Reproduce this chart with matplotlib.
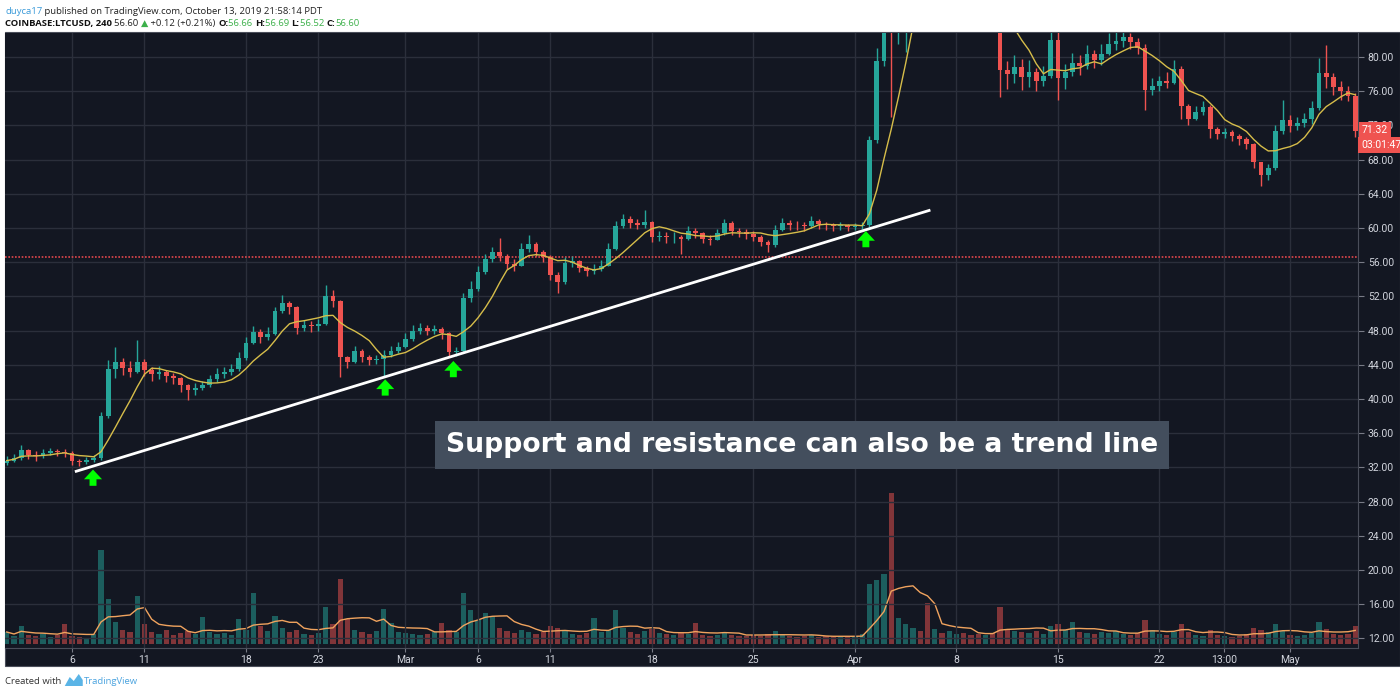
import matplotlib
matplotlib.use('Agg')
import matplotlib.pyplot as plt
from matplotlib.patches import Rectangle, Polygon
import numpy as np
import pandas as pd

# --- DATA: COINBASE LTCUSD in 12h buckets ---
# x position of candle k (0-based) = START_DAY + k * STEP, in days since Feb 1 2019
START_DAY = 0.5
STEP = 0.5

close_px = [
    32.8, 33.1, 34.0, 33.5, 33.3, 33.7, 33.9, 33.8, 33.7, 32.7,
    32.6, 32.9, 33.1, 38.0, 43.5, 44.3, 43.6, 43.2, 44.3, 43.4,
    42.9, 43.2, 42.7, 42.5, 41.6, 41.0, 41.3, 41.6, 42.3, 42.9,
    43.2, 43.5, 44.8, 46.6, 47.8, 47.3, 47.6, 50.3, 51.2, 50.8,
    48.3, 48.6, 48.5, 48.8, 52.0, 51.5, 44.9, 44.3, 45.6, 44.9,
    44.6, 44.7, 45.2, 45.6, 46.1, 47.0, 48.0, 48.3, 48.0, 48.2,
    47.7, 45.5, 45.6, 51.8, 52.9, 54.8, 56.4, 57.2, 56.7, 55.8,
    55.6, 57.6, 58.1, 57.2, 56.6, 54.5, 53.7, 55.9, 56.1, 55.3,
    55.0, 55.2, 55.6, 57.6, 60.2, 61.0, 60.6, 60.4, 60.7, 59.0,
    59.1, 58.9, 59.0, 58.7, 59.7, 59.4, 58.7, 58.6, 59.4, 60.6,
    59.7, 59.5, 59.3, 59.0, 58.4, 58.0, 59.8, 60.6, 60.4, 60.3,
    60.2, 60.8, 60.5, 60.3, 60.2, 60.3, 60.1, 60.2, 60.3, 70.3,
    79.5, 86.0, 84.5, 86.5, 88.0, 90.5, 89.0, 87.5, 88.2, 86.5,
    87.0, 88.5, 88.0, 87.2, 86.5, 88.3, 86.0, 78.5, 78.0, 78.8,
    77.7, 78.3, 77.2, 77.8, 82.0, 77.5, 78.3, 79.3, 79.0, 80.4,
    79.6, 80.3, 81.5, 81.9, 82.3, 81.8, 81.0, 76.1, 76.6, 77.2,
    77.0, 78.6, 74.3, 72.8, 73.6, 74.2, 71.6, 71.0, 71.2, 70.8,
    70.4, 69.8, 67.7, 66.2, 67.0, 71.4, 72.6, 71.9, 72.3, 72.8,
    74.0, 78.1, 77.7, 76.5, 76.0, 75.5, 71.32,
]

high_px = [
    33.3, 33.6, 34.6, 34.2, 33.9, 34.1, 34.3, 34.2, 34.1, 33.9,
    33.0, 33.2, 33.4, 38.5, 44.6, 46.1, 44.8, 44.5, 46.9, 44.7,
    43.8, 43.9, 43.4, 43.1, 42.6, 41.8, 41.9, 42.1, 42.8, 43.6,
    43.8, 44.1, 45.5, 47.3, 48.5, 48.2, 48.4, 50.8, 52.2, 51.5,
    50.9, 49.2, 49.1, 49.4, 53.3, 52.8, 51.6, 45.0, 46.2, 45.8,
    45.2, 45.2, 45.7, 46.2, 46.7, 47.7, 48.7, 48.9, 48.6, 48.7,
    48.4, 47.8, 46.1, 52.4, 53.8, 55.5, 57.0, 57.8, 58.8, 57.0,
    56.4, 58.3, 59.2, 58.4, 57.4, 56.9, 54.8, 56.6, 56.7, 56.3,
    55.6, 55.8, 56.3, 58.2, 60.8, 61.6, 61.4, 61.0, 62.1, 60.8,
    59.7, 59.5, 59.5, 59.2, 60.2, 60.0, 59.5, 59.2, 59.9, 61.1,
    60.8, 60.0, 59.9, 59.6, 59.2, 58.6, 60.3, 61.2, 60.9, 60.8,
    60.7, 61.4, 61.0, 60.7, 60.6, 60.7, 60.5, 60.6, 60.7, 70.8,
    81.0, 89.0, 88.0, 89.0, 90.5, 92.0, 91.5, 90.0, 89.5, 88.8,
    88.2, 89.8, 89.5, 88.9, 88.0, 90.5, 89.0, 86.5, 79.5, 80.2,
    79.8, 79.7, 78.7, 79.0, 83.5, 83.5, 79.2, 80.5, 80.2, 81.4,
    80.8, 81.5, 82.8, 83.0, 83.0, 82.8, 82.2, 81.5, 77.6, 77.8,
    78.2, 79.6, 79.0, 74.5, 74.3, 74.8, 74.4, 71.8, 71.7, 71.5,
    71.0, 70.6, 69.9, 67.6, 67.5, 72.0, 75.0, 73.2, 73.0, 73.5,
    74.8, 79.9, 81.4, 78.1, 77.2, 76.6, 75.8,
]

low_px = [
    32.3, 32.6, 32.9, 33.0, 32.8, 33.1, 33.4, 33.3, 33.2, 32.3,
    32.2, 32.4, 32.6, 32.9, 37.8, 42.5, 42.8, 42.6, 43.0, 42.7,
    42.1, 42.4, 42.0, 41.8, 40.8, 39.9, 40.5, 41.0, 41.4, 42.0,
    42.5, 42.8, 43.3, 44.6, 46.4, 46.6, 46.9, 47.5, 50.1, 49.9,
    47.6, 47.9, 47.8, 48.0, 48.6, 50.8, 42.6, 43.6, 44.2, 44.3,
    44.0, 44.1, 42.6, 44.9, 45.4, 46.0, 46.8, 47.6, 47.5, 47.6,
    47.0, 44.9, 45.0, 45.5, 51.4, 52.6, 54.6, 56.0, 56.1, 55.2,
    55.0, 55.5, 57.2, 56.7, 56.0, 53.9, 52.4, 53.5, 55.4, 54.8,
    54.4, 54.6, 55.0, 55.5, 57.4, 60.0, 60.0, 59.9, 60.0, 58.4,
    58.5, 58.3, 58.2, 57.0, 58.6, 58.8, 58.2, 58.0, 58.6, 59.2,
    59.2, 59.0, 58.7, 58.5, 57.9, 57.2, 57.8, 59.6, 59.8, 59.8,
    59.7, 60.0, 59.9, 59.8, 59.7, 59.8, 59.7, 59.8, 59.9, 60.1,
    70.0, 79.0, 73.0, 81.5, 80.6, 86.5, 86.0, 85.5, 86.0, 84.5,
    84.8, 85.8, 86.5, 85.6, 84.9, 85.8, 84.0, 75.3, 76.3, 77.0,
    76.2, 76.5, 76.0, 76.6, 77.5, 75.0, 76.3, 77.8, 77.9, 78.6,
    78.7, 79.1, 80.2, 80.8, 81.2, 80.9, 80.3, 73.8, 75.6, 76.0,
    76.4, 76.9, 72.7, 72.0, 72.6, 73.2, 70.5, 70.4, 70.5, 70.2,
    69.7, 69.2, 67.0, 64.9, 65.6, 66.8, 71.0, 71.2, 71.5, 71.8,
    72.2, 73.8, 76.4, 75.6, 75.0, 74.9, 70.6,
]

volume_k = [
    12, 8, 18, 9, 8, 10, 7, 9, 20, 8,
    7, 6, 10, 94, 45, 22, 14, 12, 48, 20,
    12, 10, 14, 9, 11, 13, 10, 27, 12, 10,
    11, 9, 25, 14, 51, 18, 13, 28, 16, 12,
    14, 10, 9, 11, 37, 20, 65, 25, 14, 12,
    10, 13, 35, 21, 12, 11, 10, 9, 10, 12,
    21, 14, 12, 51, 34, 24, 31, 28, 16, 13,
    11, 14, 12, 10, 12, 18, 16, 13, 10, 9,
    11, 26, 12, 14, 34, 16, 12, 10, 13, 15,
    11, 10, 9, 11, 10, 21, 9, 8, 9, 12,
    9, 8, 8, 9, 8, 10, 13, 9, 8, 7,
    8, 9, 7, 8, 7, 8, 7, 8, 10, 60,
    64, 70, 151, 26, 20, 16, 13, 41, 15, 11,
    13, 10, 11, 9, 10, 9, 11, 37, 15, 13,
    12, 11, 13, 10, 18, 20, 14, 22, 12, 11,
    10, 12, 11, 13, 10, 9, 11, 24, 14, 10,
    9, 12, 20, 12, 9, 8, 14, 9, 8, 7,
    8, 10, 16, 14, 12, 20, 13, 9, 8, 9,
    11, 22, 15, 10, 9, 10, 18,
]

tick_days = [5, 10, 17, 22, 28, 33, 38, 45, 52, 59, 66, 73, 80, 84.45, 89]
tick_labels = ['6', '11', '18', '23', 'Mar', '6', '11', '18', '25', 'Apr',
               '8', '15', '22', '13:00', 'May']
price_ticks = list(range(12, 81, 4))

LAST_QUOTE = 56.60
TREND = [(5.2, 31.5), (64.2, 62.1)]
ARROWS = [(6.45, 30.8), (26.6, 41.35), (31.3, 43.5), (59.75, 58.7)]

# --- STYLE ---
BG = '#131722'
GRID = '#2b2f3b'
UP = '#26a69a'
DN = '#ef5350'
TXT = '#d1d4dc'
W, H = 1400, 694


def fx(px):
    return px / W


def fy(py):
    return 1 - py / H


fig = plt.figure(figsize=(W / 100, H / 100), dpi=100)
fig.patch.set_facecolor('white')
fig.patches.append(Rectangle((fx(5), fy(666)), 1395 / W, (666 - 32) / H,
                             transform=fig.transFigure, facecolor=BG,
                             edgecolor='#4a4e5a', lw=0.8, zorder=-5))

L, R, T, B = 5, 1358, 33, 648
rect = [fx(L), fy(B), (R - L) / W, (B - T) / H]
vax = fig.add_axes(rect)
ax = fig.add_axes(rect)
ax.patch.set_visible(False)

n = len(close_px)
x = START_DAY + STEP * np.arange(n)
close = np.array(close_px)
opn = np.r_[32.5, close[:-1]]
high = np.maximum(np.array(high_px), np.maximum(opn, close))
low = np.minimum(np.array(low_px), np.minimum(opn, close))
colors = np.where(close >= opn, UP, DN)

# volume pane (overlay at the bottom)
vax.set_facecolor(BG)
vax.bar(x, volume_k, width=0.36, color=colors, alpha=0.5, lw=0)
vol_ma = pd.Series(volume_k).rolling(7, min_periods=1).mean()
vax.plot(x, vol_ma, color='#f0a35e', lw=1)
vax.set_ylim(-4, 611)
vax.set_xlim(0.38, 93.69)
vax.set_xticks([])
vax.set_yticks([])
for s in vax.spines.values():
    s.set_visible(False)

# candles
ax.vlines(x, low, high, color=colors, lw=1, zorder=3)
body_h = np.maximum(np.abs(close - opn), 0.1)
ax.bar(x, body_h, bottom=np.minimum(opn, close), width=0.34, color=colors,
       lw=0, zorder=3)
ma = pd.Series(close).rolling(7, min_periods=1).mean()
ax.plot(x, ma, color='#d6bd4a', lw=1, zorder=4)

ax.axhline(LAST_QUOTE, color='#e2474c', ls=(0, (1, 1)), lw=1.2, zorder=2)
ax.plot([p[0] for p in TREND], [p[1] for p in TREND], color='white', lw=2,
        zorder=5, solid_capstyle='butt')
for xd, yc in ARROWS:
    ax.annotate('', xy=(xd, yc + 0.95), xytext=(xd, yc - 0.95),
                arrowprops=dict(arrowstyle='simple,head_length=0.7,head_width=1.3,tail_width=0.5',
                                color='#00ff00', mutation_scale=10, shrinkA=0,
                                shrinkB=0, lw=0), zorder=6)

ax.set_xlim(0.38, 93.69)
ax.set_ylim(10.88, 82.81)
ax.set_yticks(price_ticks)
ax.yaxis.set_major_formatter('{x:.2f}')
ax.set_xticks(tick_days, tick_labels)
ax.yaxis.tick_right()
ax.grid(color=GRID, lw=1, zorder=0)
ax.set_axisbelow(True)
ax.tick_params(axis='y', labelcolor=TXT, color='#787b86', labelsize=7.5,
               length=4, pad=3)
ax.tick_params(axis='x', labelcolor=TXT, color='#787b86', labelsize=7.5,
               length=3, pad=2)
for lab in ax.get_xticklabels() + ax.get_yticklabels():
    lab.set_family('Roboto')
for side in ['left', 'top']:
    ax.spines[side].set_visible(False)
for side in ['right', 'bottom']:
    ax.spines[side].set_color('#4a4e5a')

# last-price badges on the price scale
fig.text(fx(1362), fy(130), '71.32', ha='left', va='center', fontsize=7.5,
         color='white', family='Roboto',
         bbox=dict(boxstyle='square,pad=0.3', fc=DN, ec='none'))
fig.text(fx(1361), fy(145), '03:01:47', ha='left', va='center', fontsize=7.5,
         color='white', family='Roboto',
         bbox=dict(boxstyle='square,pad=0.3', fc=DN, ec='none'))

# annotation box
fig.text(fx(802), fy(445), 'Support and resistance can also be a trend line',
         ha='center', va='center', fontsize=19.2, weight='bold', color='white',
         family='DejaVu Sans',
         bbox=dict(boxstyle='square,pad=0.4', fc='#434e5d', ec='none'))

# header / footer text, chained piece by piece
renderer = fig.canvas.get_renderer()


def chain(x_px, y_px, parts, size=6.8):
    for s, color, weight in parts:
        t = fig.text(fx(x_px), fy(y_px), s, ha='left', va='baseline',
                     fontsize=size, color=color, weight=weight,
                     family=['Open Sans', 'DejaVu Sans'])
        x_px = t.get_window_extent(renderer).x1
    return x_px


GREEN = '#3cb04a'
chain(5, 14, [('duyca17', '#3a9ad9', 'normal'),
              (' published on TradingView.com, October 13, 2019 21:58:14 PDT', '#222222', 'normal')])
chain(5, 26, [('COINBASE:LTCUSD, 240 ', '#111111', 'bold'),
              ('56.60 ', '#222222', 'normal'),
              ('\u25b2', GREEN, 'normal'),
              (' +0.12 (+0.21%) ', '#222222', 'normal'),
              ('O:', '#111111', 'bold'), ('56.66 ', GREEN, 'normal'),
              ('H:', '#111111', 'bold'), ('56.69 ', GREEN, 'normal'),
              ('L:', '#111111', 'bold'), ('56.52 ', GREEN, 'normal'),
              ('C:', '#111111', 'bold'), ('56.60', GREEN, 'normal')])

xe = chain(5, 684, [('Created with ', '#333333', 'normal')])
fig.patches.append(Polygon([(fx(xe + 1), fy(686)), (fx(xe + 6), fy(677)),
                            (fx(xe + 10), fy(681)), (fx(xe + 15), fy(674)),
                            (fx(xe + 19), fy(680)), (fx(xe + 19), fy(686))],
                           closed=True, transform=fig.transFigure,
                           facecolor='#5ab4e6', edgecolor='none'))
chain(xe + 20, 684, [('TradingView', '#4aa3df', 'normal')])

fig.savefig('out.png', dpi=100, facecolor='white')
